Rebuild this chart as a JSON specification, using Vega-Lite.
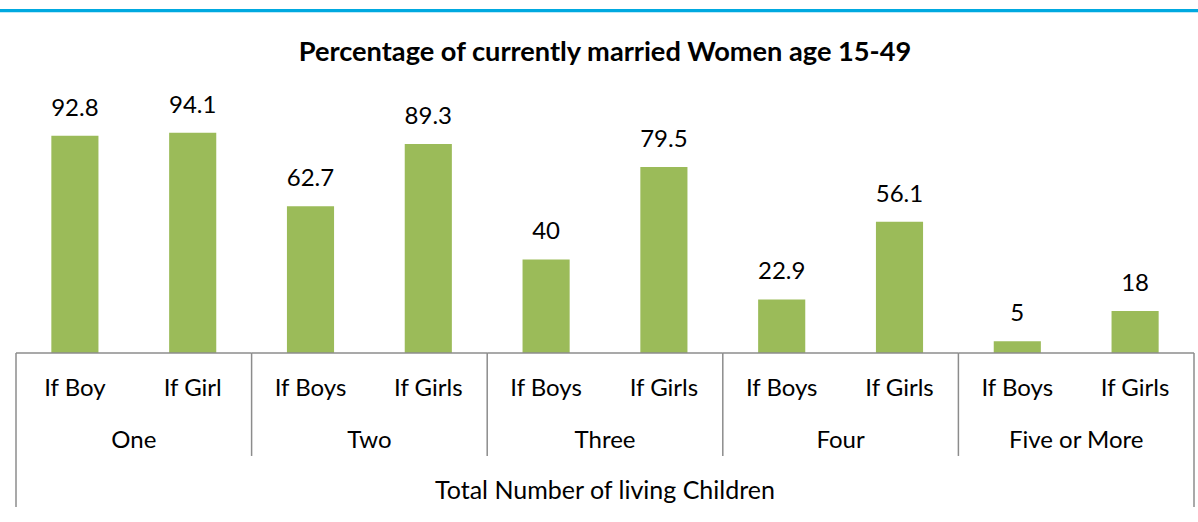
{
  "$schema": "https://vega.github.io/schema/vega-lite/v6.json",
  "width": 1198,
  "height": 234,
  "autosize": {"type": "none"},
  "padding": {"left": 0, "right": 0, "top": 119, "bottom": 169},
  "background": "white",
  "config": {"view": {"stroke": null}, "text": {"font": "Lato", "fontSize": 24, "color": "#000000"}},
  "datasets": {
    "bars": [
      {"group": "One", "sex": "Boy", "label": "If Boy", "value": 92.8},
      {"group": "One", "sex": "Girl", "label": "If Girl", "value": 94.1},
      {"group": "Two", "sex": "Boy", "label": "If Boys", "value": 62.7},
      {"group": "Two", "sex": "Girl", "label": "If Girls", "value": 89.3},
      {"group": "Three", "sex": "Boy", "label": "If Boys", "value": 40},
      {"group": "Three", "sex": "Girl", "label": "If Girls", "value": 79.5},
      {"group": "Four", "sex": "Boy", "label": "If Boys", "value": 22.9},
      {"group": "Four", "sex": "Girl", "label": "If Girls", "value": 56.1},
      {"group": "Five or More", "sex": "Boy", "label": "If Boys", "value": 5},
      {"group": "Five or More", "sex": "Girl", "label": "If Girls", "value": 18}
    ],
    "groups": [
      {"group": "One"}, {"group": "Two"}, {"group": "Three"}, {"group": "Four"}, {"group": "Five or More"}
    ],
    "inner": [
      {"group": "Two"}, {"group": "Three"}, {"group": "Four"}, {"group": "Five or More"}
    ],
    "first": [{"group": "One"}],
    "last": [{"group": "Five or More"}],
    "single": [{"group": "Three"}]
  },
  "layer": [
    {
      "data": {"name": "single"},
      "mark": {"type": "rule", "color": "#00A9E0", "strokeWidth": 3.4},
      "encoding": {
        "y": {"datum": 146.3, "type": "quantitative", "scale": {"domain": [0, 100], "nice": false, "zero": true}, "axis": null}
      }
    },
    {
      "data": {"name": "single"},
      "mark": {"type": "text", "fontWeight": "bold", "fontSize": 27.2, "baseline": "alphabetic"},
      "encoding": {
        "x": {"field": "group", "type": "nominal", "scale": {"type": "band", "domain": ["One", "Two", "Three", "Four", "Five or More"], "paddingInner": 0, "paddingOuter": 0.042445, "align": 0.8}, "axis": null},
        "y": {"datum": 124.8, "type": "quantitative"},
        "text": {"value": "Percentage of currently married Women age 15-49"}
      }
    },
    {
      "data": {"name": "bars"},
      "mark": {"type": "bar", "color": "#9BBB59"},
      "encoding": {
        "x": {"field": "group", "type": "nominal", "scale": {"type": "band", "domain": ["One", "Two", "Three", "Four", "Five or More"], "paddingInner": 0, "paddingOuter": 0.042445, "align": 0.8}, "axis": null},
        "xOffset": {"field": "sex", "type": "nominal", "scale": {"domain": ["Boy", "Girl"], "paddingInner": 0.6, "paddingOuter": 0.3}},
        "y": {"field": "value", "type": "quantitative"}
      }
    },
    {
      "data": {"name": "bars"},
      "mark": {"type": "text", "baseline": "alphabetic", "dy": -20},
      "encoding": {
        "x": {"field": "group", "type": "nominal", "axis": null},
        "xOffset": {"field": "sex", "type": "nominal"},
        "y": {"field": "value", "type": "quantitative"},
        "text": {"field": "value", "type": "quantitative"}
      }
    },
    {
      "data": {"name": "bars"},
      "mark": {"type": "text", "baseline": "alphabetic"},
      "encoding": {
        "x": {"field": "group", "type": "nominal", "axis": null},
        "xOffset": {"field": "sex", "type": "nominal"},
        "y": {"datum": -18.4, "type": "quantitative"},
        "text": {"field": "label", "type": "nominal"}
      }
    },
    {
      "data": {"name": "groups"},
      "mark": {"type": "text", "baseline": "alphabetic"},
      "encoding": {
        "x": {"field": "group", "type": "nominal", "axis": null},
        "y": {"datum": -40.6, "type": "quantitative"},
        "text": {"field": "group", "type": "nominal"}
      }
    },
    {
      "data": {"name": "single"},
      "mark": {"type": "text", "baseline": "alphabetic", "fontSize": 25},
      "encoding": {
        "x": {"field": "group", "type": "nominal", "axis": null},
        "y": {"datum": -62.4, "type": "quantitative"},
        "text": {"value": "Total Number of living Children"}
      }
    },
    {
      "data": {"name": "groups"},
      "mark": {"type": "bar", "color": "#8C8C8C"},
      "encoding": {
        "x": {"field": "group", "type": "nominal", "axis": null},
        "y": {"datum": 0.3, "type": "quantitative"},
        "y2": {"datum": -0.35}
      }
    },
    {
      "data": {"name": "inner"},
      "mark": {"type": "rule", "color": "#8C8C8C", "strokeWidth": 1.5},
      "encoding": {
        "x": {"field": "group", "type": "nominal", "bandPosition": 0, "axis": null},
        "y": {"datum": 0, "type": "quantitative"},
        "y2": {"datum": -44}
      }
    },
    {
      "data": {"name": "first"},
      "mark": {"type": "rule", "color": "#8C8C8C", "strokeWidth": 1.5},
      "encoding": {
        "x": {"field": "group", "type": "nominal", "bandPosition": 0, "axis": null},
        "y": {"datum": 0, "type": "quantitative"},
        "y2": {"datum": -65.8}
      }
    },
    {
      "data": {"name": "last"},
      "mark": {"type": "rule", "color": "#8C8C8C", "strokeWidth": 1.5},
      "encoding": {
        "x": {"field": "group", "type": "nominal", "bandPosition": 1, "axis": null},
        "y": {"datum": 0, "type": "quantitative"},
        "y2": {"datum": -65.8}
      }
    }
  ]
}
